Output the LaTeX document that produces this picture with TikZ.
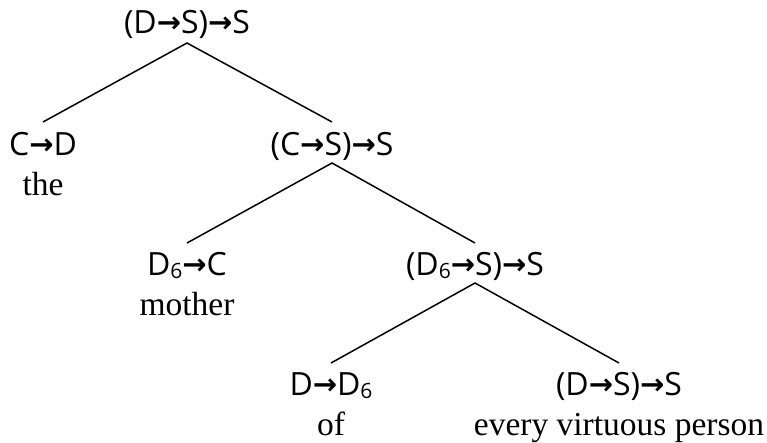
\documentclass[tikz,border=0pt]{standalone}
\usepackage{fontspec}
\setmainfont{Liberation Serif}
\newfontfamily\catfont{Open Sans}
\newfontfamily\arrfont{DejaVu Sans}[BoldFont={DejaVu Sans Bold}]
\newcommand\arr{{\arrfont\bfseries\fontsize{29}{29}\selectfont\raisebox{1pt}{→}}}
\newcommand\six{{\fontsize{21}{21}\selectfont\raisebox{-3pt}{6}}}
\begin{document}
\begin{tikzpicture}[x=1pt,y=-1pt,
  cat/.style={anchor=base,inner sep=0pt,font=\catfont\fontsize{32}{32}\selectfont},
  word/.style={anchor=base,inner sep=0pt,font=\fontsize{33.5}{33.5}\selectfont},
  branch/.style={line width=1.5pt}]
\useasboundingbox (0,0) rectangle (767,442);
\node[cat] (r) at (187,33) {(D\arr S)\arr S};
\node[cat] (cd) at (43,155) {C\arr D};
\node[word] (the) at (43,195) {the};
\node[cat] (cs) at (332,155) {(C\arr S)\arr S};
\node[cat] (dc) at (187,275) {D\six\arr C};
\node[word] (mother) at (187,315) {mother};
\node[cat] (ds) at (475,275) {(D\six\arr S)\arr S};
\node[cat] (dd) at (331,395) {D\arr D\six};
\node[word] (of) at (331,435) {of};
\node[cat] (q) at (619,395) {(D\arr S)\arr S};
\node[word] (evp) at (619,435) {every virtuous person};
\draw[branch] ([yshift=33pt]cd.base) -- ([yshift=-10pt]r.base) -- ([yshift=33pt]cs.base);
\draw[branch] ([yshift=32pt]dc.base) -- ([yshift=-8pt]cs.base) -- ([yshift=32pt]ds.base);
\draw[branch] ([yshift=32pt]dd.base) -- ([yshift=-8pt]ds.base) -- ([yshift=32pt]q.base);
\end{tikzpicture}
\end{document}
